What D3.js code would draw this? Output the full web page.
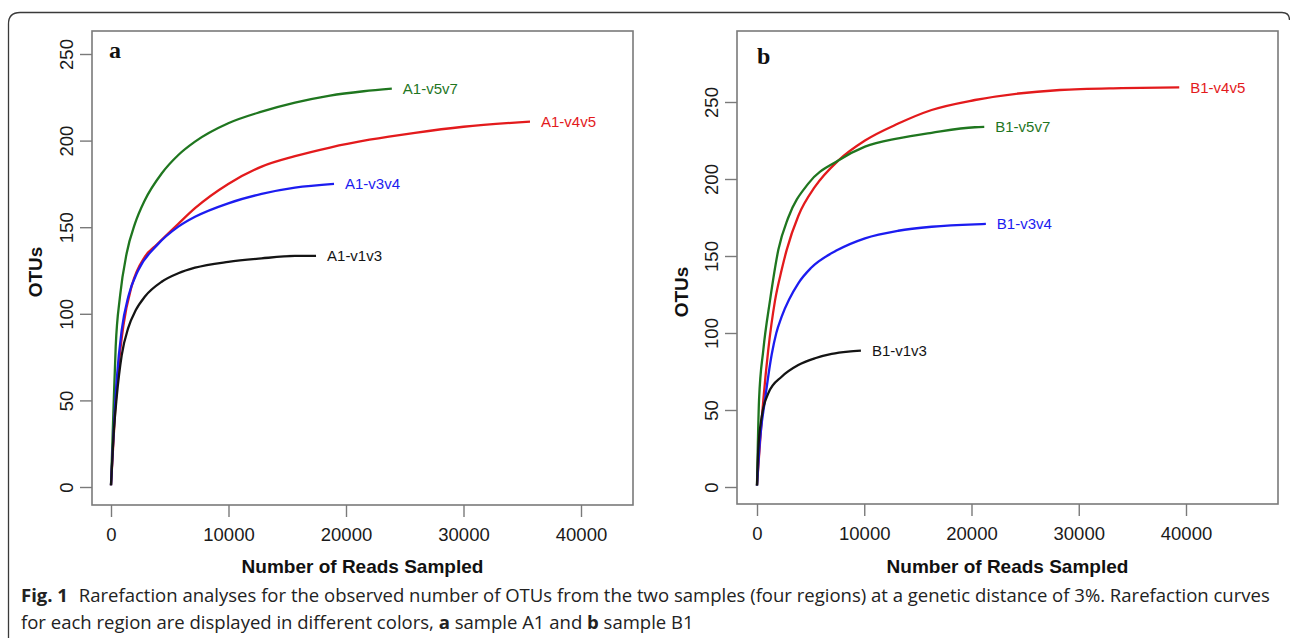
<!DOCTYPE html>
<html>
<head>
<meta charset="utf-8">
<script src="https://cdn.jsdelivr.net/npm/d3@7"></script>
<style>
  body { margin: 0; background: #fff; }
  svg { display: block; }
</style>
</head>
<body>
<div id="chart"></div>
<script>
// tick values
const readTicks = [0, 10000, 20000, 30000, 40000];
const otuTicks = [0, 50, 100, 150, 200, 250];

// sample A1 (panel a)
const a1v5v7Reads = [0, 200, 400, 766, 1335, 2040, 2890, 4310, 5730, 7150, 9980, 12820, 15660, 18640, 21500, 23900];
const a1v5v7Otus  = [1, 42.5, 81, 110, 135, 152, 165.7, 181, 191.7, 199.4, 210, 216.7, 221.9, 226, 228.5, 230];
const a1v4v5Reads = [0, 340, 620, 1050, 1760, 2890, 3900, 5730, 7150, 9980, 12820, 15660, 18640, 22000, 25870, 30000, 35660];
const a1v4v5Otus  = [1, 42.5, 68, 93, 116, 133, 140, 152, 161, 175, 185, 191, 196, 200.5, 204.5, 208, 211];
const a1v3v4Reads = [0, 485, 910, 1475, 2330, 3900, 5730, 7150, 9980, 12820, 15660, 18980];
const a1v3v4Otus  = [1, 61.8, 90.6, 110, 125.3, 139.5, 150.3, 156, 163.8, 169.2, 172.8, 175];
const a1v1v3Reads = [0, 200, 485, 910, 1475, 2100, 2890, 4310, 5730, 7150, 9980, 12820, 15660, 17450];
const a1v1v3Otus  = [1, 28, 52, 76, 92, 102, 110, 118.5, 123.4, 126.6, 130, 132, 133.4, 133.5];

// sample B1 (panel b)
const b1v4v5Reads = [0, 590, 1050, 1680, 2300, 2770, 3850, 5410, 7580, 10070, 13170, 16280, 20320, 28240, 34000, 39370];
const b1v4v5Otus  = [1, 56.5, 89, 121, 141, 154, 176, 195, 212, 225, 236, 244.8, 251.3, 257.8, 259, 259.5];
const b1v5v7Reads = [0, 190, 590, 1210, 1990, 2920, 4780, 7580, 10070, 13170, 16280, 20320, 21190];
const b1v5v7Otus  = [1, 56.5, 89, 121, 154, 175, 197, 212, 221, 226.4, 230, 233.6, 233.8];
const b1v3v4Reads = [0, 280, 745, 1370, 1800, 2300, 3850, 5000, 7400, 10070, 13170, 16280, 20320, 21340];
const b1v3v4Otus  = [1, 30.5, 56.5, 86, 100, 110.6, 132.3, 142, 153.5, 161.5, 166.4, 169, 170.6, 170.8];
const b1v1v3Reads = [0, 120, 440, 1050, 2300, 3850, 5410, 6960, 8510, 9690];
const b1v1v3Otus  = [1, 24, 45.6, 60.8, 71.6, 79.2, 83.6, 86.4, 87.9, 88.5];

const colors = { v1v3: "#141414", v3v4: "#1c1cf0", v4v5: "#e31a1c", v5v7: "#1f761f" };

const series = [
  { panel: "a", name: "A1-v5v7", region: "v5v7", reads: a1v5v7Reads, otus: a1v5v7Otus },
  { panel: "a", name: "A1-v4v5", region: "v4v5", reads: a1v4v5Reads, otus: a1v4v5Otus },
  { panel: "a", name: "A1-v3v4", region: "v3v4", reads: a1v3v4Reads, otus: a1v3v4Otus },
  { panel: "a", name: "A1-v1v3", region: "v1v3", reads: a1v1v3Reads, otus: a1v1v3Otus },
  { panel: "b", name: "B1-v4v5", region: "v4v5", reads: b1v4v5Reads, otus: b1v4v5Otus },
  { panel: "b", name: "B1-v5v7", region: "v5v7", reads: b1v5v7Reads, otus: b1v5v7Otus },
  { panel: "b", name: "B1-v3v4", region: "v3v4", reads: b1v3v4Reads, otus: b1v3v4Otus },
  { panel: "b", name: "B1-v1v3", region: "v1v3", reads: b1v1v3Reads, otus: b1v1v3Otus }
];

// panel layout (pixels)
const panels = [
  { id: "a", box: [92, 31, 633, 505], xr: [111, 581], yr: [487, 54], letter: [109, 58], ylabY: 272, ylabX: 42 },
  { id: "b", box: [737, 31, 1278, 504], xr: [757, 1186], yr: [487, 102], letter: [757, 64], ylabY: 292, ylabX: 688 }
];

const W = 1290, H = 638;
const svg = d3.select("#chart").append("svg").attr("width", W).attr("height", H);

// outer card frame
svg.append("path")
  .attr("d", `M8.5,${H} V24 Q8.5,12.5 20,12.5 H1282 Q1289.5,12.5 1289.5,20`)
  .attr("fill", "none").attr("stroke", "#3a3a3a").attr("stroke-width", 1.3);

const axisFont = "'Liberation Sans', Arial, Helvetica, sans-serif";

panels.forEach(p => {
  const [l, t, r, b] = p.box;
  const x = d3.scaleLinear().domain([0, 40000]).range(p.xr);
  const y = d3.scaleLinear().domain([0, 250]).range(p.yr);
  const g = svg.append("g");

  // x axis
  const xa = g.append("g").attr("transform", `translate(0,${b})`)
    .call(d3.axisBottom(x).tickValues(readTicks).tickSize(12).tickPadding(11).tickFormat(d3.format("d")));
  xa.select(".domain").remove();
  xa.selectAll("line").attr("stroke", "#7a7a7a").attr("stroke-width", 1.4);
  xa.selectAll("text").attr("font-family", axisFont).attr("font-size", 18.5).attr("fill", "#1a1a1a");

  // y axis, labels rotated like R default
  const ya = g.append("g").attr("transform", `translate(${l},0)`)
    .call(d3.axisLeft(y).tickValues(otuTicks).tickSize(12));
  ya.select(".domain").remove();
  ya.selectAll("line").attr("stroke", "#7a7a7a").attr("stroke-width", 1.4);
  ya.selectAll("text")
    .attr("x", null).attr("dy", null)
    .attr("transform", "translate(-19.5,0) rotate(-90)")
    .attr("text-anchor", "middle")
    .attr("font-family", axisFont).attr("font-size", 18.5).attr("fill", "#1a1a1a");

  // box
  g.append("rect").attr("x", l).attr("y", t).attr("width", r - l).attr("height", b - t)
    .attr("fill", "none").attr("stroke", "#7a7a7a").attr("stroke-width", 1.6);

  // axis titles
  g.append("text").attr("x", (l + r) / 2).attr("y", 573)
    .attr("text-anchor", "middle").attr("font-family", axisFont).attr("font-weight", "bold")
    .attr("font-size", 19).attr("fill", "#111").text("Number of Reads Sampled");
  g.append("text")
    .attr("transform", `translate(${p.ylabX},${p.ylabY}) rotate(-90)`)
    .attr("text-anchor", "middle").attr("font-family", axisFont).attr("font-weight", "bold")
    .attr("font-size", 19).attr("fill", "#111").text("OTUs");

  // panel letter
  g.append("text").attr("x", p.letter[0]).attr("y", p.letter[1])
    .attr("font-family", "'Liberation Serif', 'Times New Roman', serif").attr("font-weight", "bold")
    .attr("font-size", 24).attr("fill", "#111").text(p.id);

  // curves
  const line = d3.line().x(d => x(d[0])).y(d => y(d[1])).curve(d3.curveMonotoneX);
  series.filter(s => s.panel === p.id).forEach(s => {
    const pts = s.reads.map((v, i) => [v, s.otus[i]]);
    g.append("path").datum(pts).attr("d", line)
      .attr("fill", "none").attr("stroke", colors[s.region]).attr("stroke-width", 2.3)
      .attr("stroke-linejoin", "round");
    const last = pts[pts.length - 1];
    g.append("text").attr("x", x(last[0]) + 11).attr("y", y(last[1])).attr("dy", "0.36em")
      .attr("font-family", axisFont).attr("font-size", 15).attr("fill", colors[s.region])
      .text(s.name);
  });
});

// caption
const capFont = "'Open Sans', 'Noto Sans', sans-serif";
const cap1 = svg.append("text").attr("x", 21).attr("y", 602)
  .attr("font-family", capFont).attr("font-size", 16).attr("fill", "#222");
cap1.append("tspan").attr("font-weight", "bold").text("Fig. 1");
cap1.append("tspan").attr("dx", 6).text(" Rarefaction analyses for the observed number of OTUs from the two samples (four regions) at a genetic distance of 3%. Rarefaction curves");
const cap2 = svg.append("text").attr("x", 21).attr("y", 629)
  .attr("font-family", capFont).attr("font-size", 16).attr("fill", "#222");
cap2.append("tspan").text("for each region are displayed in different colors, ");
cap2.append("tspan").attr("font-weight", "bold").text("a");
cap2.append("tspan").text(" sample A1 and ");
cap2.append("tspan").attr("font-weight", "bold").text("b");
cap2.append("tspan").text(" sample B1");

// fit caption width to the reference line length
const len1 = cap1.node().getComputedTextLength();
const fs = 16 * (1265 - 21) / len1;
cap1.attr("font-size", fs);
cap2.attr("font-size", fs);
</script>
</body>
</html>
